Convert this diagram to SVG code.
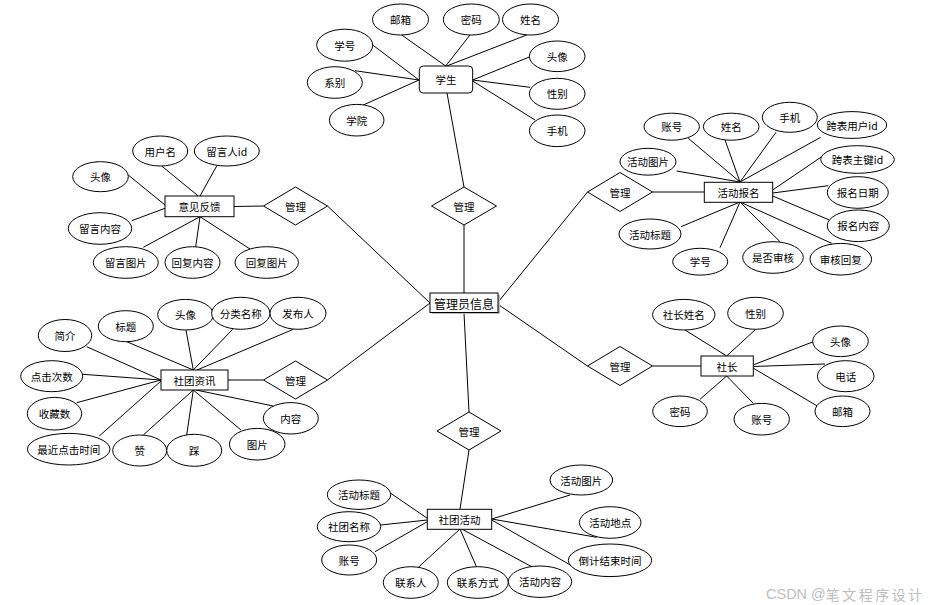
<svg xmlns="http://www.w3.org/2000/svg" width="941" height="605" viewBox="0 0 941 605">
<style>
  .ln{stroke:#000;stroke-width:1;fill:none}
  .el{fill:#fff;stroke:#000;stroke-width:1}
  .bx{fill:#fff;stroke:#000;stroke-width:1}
  .dm{fill:#fff;stroke:#000;stroke-width:1}
  text{font-family:"Noto Sans CJK SC","Noto Sans",sans-serif;font-size:10.5px;fill:#000;text-anchor:middle;dominant-baseline:central}
  .big{font-size:12px}
  .wm{font-family:"Liberation Sans","Noto Sans CJK SC",sans-serif;font-size:14.5px;fill:#bdbdbd;text-anchor:start}
  .wmc{font-family:"Noto Sans CJK SC",sans-serif;font-size:14px;letter-spacing:2.5px}
</style>
<rect width="941" height="605" fill="#fff"/>
<g id="connectors">
  <line class="ln" x1="464" y1="225" x2="464" y2="293"/>
  <line class="ln" x1="464" y1="187" x2="447" y2="93"/>
  <line class="ln" x1="327.5" y1="206" x2="430" y2="303"/>
  <line class="ln" x1="327.5" y1="380" x2="430" y2="303"/>
  <line class="ln" x1="469" y1="412" x2="464" y2="313"/>
  <line class="ln" x1="587.5" y1="192" x2="499" y2="301"/>
  <line class="ln" x1="587.5" y1="366" x2="499" y2="305"/>
  <line class="ln" x1="234" y1="206.5" x2="263.5" y2="206"/>
  <line class="ln" x1="228" y1="380" x2="263.5" y2="380"/>
  <line class="ln" x1="652.5" y1="192" x2="704" y2="192"/>
  <line class="ln" x1="652.5" y1="366" x2="701" y2="366"/>
  <line class="ln" x1="469" y1="450" x2="460" y2="509"/>
  <line class="ln" x1="401.7" y1="35" x2="445.7" y2="66"/>
  <line class="ln" x1="470" y1="35" x2="445.7" y2="66"/>
  <line class="ln" x1="526.7" y1="35" x2="446.7" y2="66"/>
  <line class="ln" x1="372.7" y1="45" x2="419" y2="80"/>
  <line class="ln" x1="355" y1="70.7" x2="419" y2="80"/>
  <line class="ln" x1="363.3" y1="105" x2="419" y2="80"/>
  <line class="ln" x1="530" y1="56.7" x2="472.7" y2="80"/>
  <line class="ln" x1="530" y1="87.3" x2="472.7" y2="80"/>
  <line class="ln" x1="535" y1="120" x2="472.7" y2="81"/>
  <line class="ln" x1="688.3" y1="138.3" x2="740" y2="182"/>
  <line class="ln" x1="725" y1="140" x2="740" y2="182"/>
  <line class="ln" x1="776" y1="132.3" x2="740" y2="182"/>
  <line class="ln" x1="820.7" y1="137.3" x2="740" y2="182"/>
  <line class="ln" x1="676.7" y1="171" x2="740" y2="182"/>
  <line class="ln" x1="821.7" y1="156.7" x2="772.7" y2="190"/>
  <line class="ln" x1="828.3" y1="185.7" x2="772.7" y2="193"/>
  <line class="ln" x1="829.3" y1="220" x2="772.7" y2="196"/>
  <line class="ln" x1="831.7" y1="243.3" x2="740" y2="202"/>
  <line class="ln" x1="780" y1="241.7" x2="740" y2="202"/>
  <line class="ln" x1="720" y1="247.7" x2="740" y2="202"/>
  <line class="ln" x1="681" y1="226.7" x2="740" y2="202"/>
  <line class="ln" x1="161.7" y1="166" x2="198.3" y2="196"/>
  <line class="ln" x1="216.7" y1="166" x2="200" y2="196"/>
  <line class="ln" x1="128.3" y1="175" x2="165" y2="205"/>
  <line class="ln" x1="131.7" y1="220.7" x2="165" y2="208.3"/>
  <line class="ln" x1="143.3" y1="247.3" x2="200" y2="216.7"/>
  <line class="ln" x1="195.7" y1="246.7" x2="200" y2="216.7"/>
  <line class="ln" x1="250" y1="249" x2="200" y2="216.7"/>
  <line class="ln" x1="86.7" y1="346.7" x2="161" y2="380"/>
  <line class="ln" x1="126.7" y1="341.7" x2="193.3" y2="370"/>
  <line class="ln" x1="186" y1="330" x2="193.3" y2="370"/>
  <line class="ln" x1="232.7" y1="329.3" x2="193.3" y2="370"/>
  <line class="ln" x1="293.3" y1="329.3" x2="197" y2="370"/>
  <line class="ln" x1="82.7" y1="374.3" x2="161" y2="380"/>
  <line class="ln" x1="76.7" y1="402.7" x2="161" y2="380"/>
  <line class="ln" x1="99.3" y1="436" x2="161" y2="381"/>
  <line class="ln" x1="143.3" y1="435" x2="193.3" y2="390"/>
  <line class="ln" x1="186.7" y1="435" x2="193.3" y2="390"/>
  <line class="ln" x1="241" y1="430" x2="193.3" y2="390"/>
  <line class="ln" x1="273.3" y1="406" x2="196" y2="390"/>
  <line class="ln" x1="685" y1="330" x2="726.7" y2="356"/>
  <line class="ln" x1="755.7" y1="329.3" x2="726.7" y2="356"/>
  <line class="ln" x1="813.3" y1="341.7" x2="753" y2="365"/>
  <line class="ln" x1="825" y1="364" x2="753" y2="366.5"/>
  <line class="ln" x1="817.3" y1="406" x2="753" y2="368"/>
  <line class="ln" x1="700" y1="399.3" x2="726.7" y2="376"/>
  <line class="ln" x1="753.3" y1="403.3" x2="726.7" y2="376"/>
  <line class="ln" x1="390.7" y1="493.3" x2="427.3" y2="518.3"/>
  <line class="ln" x1="380.7" y1="525" x2="427.3" y2="520"/>
  <line class="ln" x1="375" y1="551.7" x2="427.3" y2="521.7"/>
  <line class="ln" x1="418.3" y1="567.3" x2="460" y2="529"/>
  <line class="ln" x1="476.7" y1="567.3" x2="460" y2="529"/>
  <line class="ln" x1="531.7" y1="566.7" x2="461.7" y2="529"/>
  <line class="ln" x1="570" y1="495" x2="491.7" y2="519"/>
  <line class="ln" x1="596.7" y1="537.3" x2="491.7" y2="519"/>
  <line class="ln" x1="573.3" y1="566.7" x2="491.7" y2="520"/>
</g>

<g id="admin">
  <rect x="432" y="295" width="68" height="19" fill="#bbb"/>
  <rect class="bx" x="430" y="293" width="68" height="19.5"/>
  <text class="big" x="464" y="303">管理员信息</text>
</g>

<g id="rel-student"><polygon class="dm" points="464,187 496.5,206 464,225 431.5,206"/><text x="464" y="206">管理</text></g>
<g id="rel-feedback"><polygon class="dm" points="295.5,187 327.5,206 295.5,225 263.5,206"/><text x="295.5" y="206">管理</text></g>
<g id="rel-news"><polygon class="dm" points="295.5,361 327.5,380 295.5,399 263.5,380"/><text x="295.5" y="380">管理</text></g>
<g id="rel-activity"><polygon class="dm" points="469,412 501,431 469,450 437,431"/><text x="469" y="431">管理</text></g>
<g id="rel-signup"><polygon class="dm" points="620,172.5 652.5,192 620,211.5 587.5,192"/><text x="620" y="192">管理</text></g>
<g id="rel-leader"><polygon class="dm" points="620,346.5 652.5,366 620,385.5 587.5,366"/><text x="620" y="366">管理</text></g>

<g id="student"><rect class="bx" x="419.3" y="66" width="53.4" height="27" rx="4"/><text x="446" y="79.5">学生</text></g>
<g id="feedback"><rect class="bx" x="165" y="196" width="69" height="20.7"/><text x="199.5" y="206.5">意见反馈</text></g>
<g id="news"><rect class="bx" x="161" y="370" width="67" height="20"/><text x="194.5" y="380">社团资讯</text></g>
<g id="signup"><rect class="bx" x="704.3" y="182.3" width="68.4" height="20"/><text x="738.5" y="192.3">活动报名</text></g>
<g id="leader"><rect class="bx" x="701" y="356" width="52.3" height="20"/><text x="727" y="366">社长</text></g>
<g id="activity"><rect class="bx" x="427.3" y="509.3" width="64.4" height="20"/><text x="459.5" y="519.3">社团活动</text></g>

<g id="st-email"><ellipse class="el" cx="400.5" cy="19.5" rx="28" ry="15.5"/><text x="400.5" y="19.5">邮箱</text></g>
<g id="st-pwd"><ellipse class="el" cx="471.3" cy="19.5" rx="28" ry="15.5"/><text x="471.3" y="19.5">密码</text></g>
<g id="st-name"><ellipse class="el" cx="530.5" cy="19.5" rx="28" ry="15.5"/><text x="530.5" y="19.5">姓名</text></g>
<g id="st-no"><ellipse class="el" cx="344.7" cy="45.2" rx="28" ry="16"/><text x="344.7" y="45.2">学号</text></g>
<g id="st-dept"><ellipse class="el" cx="334.8" cy="82.5" rx="27.5" ry="15.8"/><text x="334.8" y="82.5">系别</text></g>
<g id="st-college"><ellipse class="el" cx="356.7" cy="120.2" rx="27.3" ry="15.8"/><text x="356.7" y="120.2">学院</text></g>
<g id="st-avatar"><ellipse class="el" cx="557.2" cy="56.3" rx="27.8" ry="15.3"/><text x="557.2" y="56.3">头像</text></g>
<g id="st-sex"><ellipse class="el" cx="557.2" cy="93.8" rx="27.8" ry="15.5"/><text x="557.2" y="93.8">性别</text></g>
<g id="st-phone"><ellipse class="el" cx="557.2" cy="130.8" rx="27.8" ry="15.8"/><text x="557.2" y="130.8">手机</text></g>

<g id="su-acc"><ellipse class="el" cx="671.7" cy="126.7" rx="27.7" ry="13.5"/><text x="671.7" y="126.7">账号</text></g>
<g id="su-name"><ellipse class="el" cx="731.2" cy="126.7" rx="27.8" ry="13.5"/><text x="731.2" y="126.7">姓名</text></g>
<g id="su-phone"><ellipse class="el" cx="789.8" cy="117.3" rx="27.5" ry="15"/><text x="789.8" y="117.3">手机</text></g>
<g id="su-uid"><ellipse class="el" cx="852" cy="125" rx="34.7" ry="13.4"/><text x="852" y="125">跨表用户id</text></g>
<g id="su-pid"><ellipse class="el" cx="857.5" cy="159.5" rx="36.8" ry="13.8"/><text x="857.5" y="159.5">跨表主键id</text></g>
<g id="su-date"><ellipse class="el" cx="857.8" cy="192.5" rx="30.5" ry="15.8"/><text x="857.8" y="192.5">报名日期</text></g>
<g id="su-content"><ellipse class="el" cx="858.3" cy="225.8" rx="31" ry="15.8"/><text x="858.3" y="225.8">报名内容</text></g>
<g id="su-reply"><ellipse class="el" cx="840.8" cy="259.2" rx="30.8" ry="15.8"/><text x="840.8" y="259.2">审核回复</text></g>
<g id="su-audit"><ellipse class="el" cx="773" cy="257.5" rx="30.3" ry="15.8"/><text x="773" y="257.5">是否审核</text></g>
<g id="su-no"><ellipse class="el" cx="700.2" cy="261.7" rx="27.5" ry="13.4"/><text x="700.2" y="261.7">学号</text></g>
<g id="su-title"><ellipse class="el" cx="650" cy="234" rx="31" ry="15"/><text x="650" y="234">活动标题</text></g>
<g id="su-pic"><ellipse class="el" cx="648" cy="161.7" rx="28" ry="13.4"/><text x="648" y="161.7">活动图片</text></g>

<g id="fb-user"><ellipse class="el" cx="160.2" cy="151" rx="27.5" ry="15"/><text x="160.2" y="151">用户名</text></g>
<g id="fb-uid"><ellipse class="el" cx="226.8" cy="151" rx="32.5" ry="15"/><text x="226.8" y="151">留言人id</text></g>
<g id="fb-avatar"><ellipse class="el" cx="100.5" cy="176.7" rx="27.8" ry="15"/><text x="100.5" y="176.7">头像</text></g>
<g id="fb-msg"><ellipse class="el" cx="100" cy="228.5" rx="31.7" ry="15.8"/><text x="100" y="228.5">留言内容</text></g>
<g id="fb-msgpic"><ellipse class="el" cx="125.8" cy="262.5" rx="32.5" ry="15.8"/><text x="125.8" y="262.5">留言图片</text></g>
<g id="fb-reply"><ellipse class="el" cx="192.5" cy="262.5" rx="27.5" ry="15.8"/><text x="192.5" y="262.5">回复内容</text></g>
<g id="fb-replypic"><ellipse class="el" cx="266.7" cy="262.5" rx="31.7" ry="15.8"/><text x="266.7" y="262.5">回复图片</text></g>

<g id="nw-intro"><ellipse class="el" cx="65" cy="335.5" rx="26.7" ry="16"/><text x="65" y="335.5">简介</text></g>
<g id="nw-title"><ellipse class="el" cx="125.8" cy="326.2" rx="27.5" ry="15.5"/><text x="125.8" y="326.2">标题</text></g>
<g id="nw-avatar"><ellipse class="el" cx="185.5" cy="314.7" rx="27.8" ry="15.3"/><text x="185.5" y="314.7">头像</text></g>
<g id="nw-cat"><ellipse class="el" cx="240.8" cy="313.3" rx="29.2" ry="16"/><text x="240.8" y="313.3">分类名称</text></g>
<g id="nw-pub"><ellipse class="el" cx="298" cy="313.3" rx="28" ry="16"/><text x="298" y="313.3">发布人</text></g>
<g id="nw-clicks"><ellipse class="el" cx="51.7" cy="376.2" rx="31" ry="15.5"/><text x="51.7" y="376.2">点击次数</text></g>
<g id="nw-fav"><ellipse class="el" cx="54.5" cy="413.7" rx="27.2" ry="16.3"/><text x="54.5" y="413.7">收藏数</text></g>
<g id="nw-last"><ellipse class="el" cx="68.7" cy="449.2" rx="41.3" ry="15.8"/><text x="68.7" y="449.2">最近点击时间</text></g>
<g id="nw-like"><ellipse class="el" cx="139.7" cy="450.5" rx="27" ry="15.5"/><text x="139.7" y="450.5">赞</text></g>
<g id="nw-dislike"><ellipse class="el" cx="194.2" cy="450.3" rx="27.5" ry="16"/><text x="194.2" y="450.3">踩</text></g>
<g id="nw-pic"><ellipse class="el" cx="257.2" cy="444.2" rx="27.8" ry="15.8"/><text x="257.2" y="444.2">图片</text></g>
<g id="nw-content"><ellipse class="el" cx="290.8" cy="418.3" rx="27.5" ry="15.7"/><text x="290.8" y="418.3">内容</text></g>

<g id="ld-name"><ellipse class="el" cx="683.8" cy="314.7" rx="31.2" ry="15.3"/><text x="683.8" y="314.7">社长姓名</text></g>
<g id="ld-sex"><ellipse class="el" cx="755.5" cy="313.3" rx="27.8" ry="16"/><text x="755.5" y="313.3">性别</text></g>
<g id="ld-avatar"><ellipse class="el" cx="840.5" cy="341.3" rx="27.8" ry="15.3"/><text x="840.5" y="341.3">头像</text></g>
<g id="ld-tel"><ellipse class="el" cx="845.7" cy="376.2" rx="28.3" ry="15.5"/><text x="845.7" y="376.2">电话</text></g>
<g id="ld-email"><ellipse class="el" cx="842.5" cy="411.3" rx="27.5" ry="15.3"/><text x="842.5" y="411.3">邮箱</text></g>
<g id="ld-pwd"><ellipse class="el" cx="680" cy="411.3" rx="27.3" ry="15.3"/><text x="680" y="411.3">密码</text></g>
<g id="ld-acc"><ellipse class="el" cx="761.7" cy="419.2" rx="27.7" ry="15.8"/><text x="761.7" y="419.2">账号</text></g>

<g id="ac-title"><ellipse class="el" cx="359" cy="494.7" rx="31.7" ry="14.7"/><text x="359" y="494.7">活动标题</text></g>
<g id="ac-club"><ellipse class="el" cx="349" cy="526.7" rx="31.7" ry="15"/><text x="349" y="526.7">社团名称</text></g>
<g id="ac-acc"><ellipse class="el" cx="349.2" cy="560" rx="27.5" ry="15"/><text x="349.2" y="560">账号</text></g>
<g id="ac-contact"><ellipse class="el" cx="410.8" cy="582.5" rx="27.5" ry="15.8"/><text x="410.8" y="582.5">联系人</text></g>
<g id="ac-method"><ellipse class="el" cx="477.8" cy="582.5" rx="30.5" ry="15.8"/><text x="477.8" y="582.5">联系方式</text></g>
<g id="ac-content"><ellipse class="el" cx="540" cy="581.7" rx="31.7" ry="15.7"/><text x="540" y="581.7">活动内容</text></g>
<g id="ac-pic"><ellipse class="el" cx="581.3" cy="480" rx="31.3" ry="15"/><text x="581.3" y="480">活动图片</text></g>
<g id="ac-place"><ellipse class="el" cx="610.2" cy="522.5" rx="30.8" ry="15.8"/><text x="610.2" y="522.5">活动地点</text></g>
<g id="ac-end"><ellipse class="el" cx="610" cy="560.3" rx="41.7" ry="16.3"/><text x="610" y="560.3">倒计结束时间</text></g>

<text class="wm" x="766" y="594" dominant-baseline="auto">CSDN @<tspan class="wmc">笔文程序设计</tspan></text>
</svg>
